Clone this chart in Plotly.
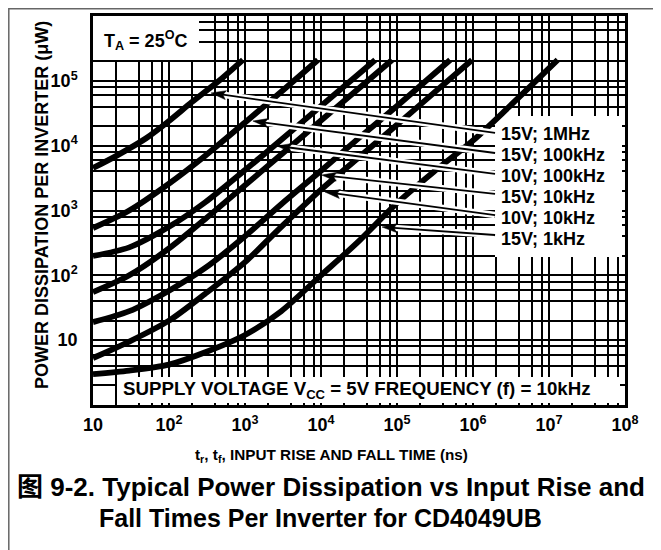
import math
import plotly.graph_objects as go

# ---------------- data (rise time ns, power uW) ----------------
rise_15v_1mhz = [10, 20, 50, 100, 200, 500, 940]
power_15v_1mhz = [4520, 6900, 13000, 24000, 47000, 110000, 210000]

rise_15v_100khz = [10, 30, 100, 300, 1000, 3000, 9100]
power_15v_100khz = [537, 1000, 2600, 7000, 22800, 68000, 210000]

rise_10v_100khz = [10, 30, 100, 300, 1000, 3000, 10000, 30000, 51600]
power_10v_100khz = [199, 270, 560, 1340, 4200, 12300, 41000, 122000, 210000]

rise_15v_10khz = [10, 30, 100, 300, 1000, 3000, 10000, 30000, 86000]
power_15v_10khz = [55, 100, 260, 740, 2450, 7300, 24500, 73000, 210000]

rise_10v_10khz = [10, 30, 100, 300, 1000, 3000, 10000, 30000, 100000, 300000, 500000]
power_10v_10khz = [19, 28, 58, 130, 400, 1250, 4100, 12500, 41000, 125000, 210000]

rise_15v_1khz = [10, 30, 100, 300, 1000, 3000, 10000, 30000, 100000, 300000, 970000]
power_15v_1khz = [5.3, 9.5, 20, 52, 160, 560, 2100, 6300, 21000, 64000, 210000]

rise_5v_10khz = [10, 30, 100, 300, 1000, 3000, 10000, 30000, 100000, 300000,
                 1000000, 3000000, 13000000]
power_5v_10khz = [3.0, 3.4, 4.2, 6.5, 12, 28, 100, 320, 1300, 3900, 12000, 40000, 210000]

# arrows from the label column to the curves
arrow_labels = ["15V; 1MHz", "15V; 100kHz", "10V; 100kHz", "15V; 10kHz", "10V; 10kHz", "15V; 1kHz"]
arrow_tail_rise = [1.95e6, 1.95e6, 1.95e6, 1.95e6, 1.95e6, 1.95e6]
arrow_tail_power = [15700, 7710, 3660, 1800, 851, 419]
arrow_tip_rise = [357, 1270, 2640, 10200, 11300, 63500]
arrow_tip_power = [64900, 24000, 9890, 3520, 1930, 556]

x_tick_vals = [10, 1e2, 1e3, 1e4, 1e5, 1e6, 1e7, 1e8]
x_tick_text = ["10", "10<sup>2</sup>", "10<sup>3</sup>", "10<sup>4</sup>", "10<sup>5</sup>",
               "10<sup>6</sup>", "10<sup>7</sup>", "10<sup>8</sup>"]
y_tick_vals = [10, 1e2, 1e3, 1e4, 1e5]
y_tick_text = ["10", "10<sup>2</sup>", "10<sup>3</sup>", "10<sup>4</sup>", "10<sup>5</sup>"]

# ---------------- layout geometry (page pixels; the page body adds an 8px offset) ----------------
OFF = 8
PAGE_W, PAGE_H = 661, 550
W, H = PAGE_W - OFF, PAGE_H - OFF
L, R, T, B = 93, 625, 16, 405          # plot area on the page
FONT = "Liberation Sans, Arial, Noto Sans CJK SC, sans-serif"
SX = (R - L) / 7.0   # px per decade (x)
SY = (B - T) / 6.0   # px per decade (y)


def xp(px):
    return (px - L) / (R - L)


def yp(py):
    return (B - py) / (B - T)


def px2x(px):
    return 10 ** (1 + (px - L) / SX)


def py2y(py):
    return 10 ** (6 - (py - T) / SY)


x_minor = [m * 10 ** k for k in range(1, 8) for m in (2, 4, 6, 8)]
y_minor = [m * 10 ** k for k in range(0, 6) for m in (2, 4, 6, 8)]

fig = go.Figure()

# white boxes that blank out the grid behind the texts
boxes = [(L, 199, T, 60), (495, 622, 116, 257), (117, 620, 377, 403)]
for x0, x1, y0, y1 in boxes:
    fig.add_trace(go.Scatter(
        x=[px2x(x0), px2x(x1), px2x(x1), px2x(x0), px2x(x0)],
        y=[py2y(y0), py2y(y0), py2y(y1), py2y(y1), py2y(y0)],
        mode="lines", fill="toself", fillcolor="white", line=dict(width=0, color="white"),
        hoverinfo="skip", showlegend=False))

curves = [
    (rise_15v_1mhz, power_15v_1mhz),
    (rise_15v_100khz, power_15v_100khz),
    (rise_10v_100khz, power_10v_100khz),
    (rise_15v_10khz, power_15v_10khz),
    (rise_10v_10khz, power_10v_10khz),
    (rise_15v_1khz, power_15v_1khz),
    (rise_5v_10khz, power_5v_10khz),
]
for xs, ys in curves:
    fig.add_trace(go.Scatter(x=xs, y=ys, mode="lines",
                             line=dict(color="black", width=5.8, shape="spline", smoothing=0.8),
                             hoverinfo="skip", showlegend=False))

# arrows: white halo, black shaft, black head
HEAD_LEN, HEAD_HW, NOTCH = 15.0, 4.5, 3.0
halo_x, halo_y, shaft_x, shaft_y, head_x, head_y = [], [], [], [], [], []
for tx, ty, kx, ky in zip(arrow_tail_rise, arrow_tail_power, arrow_tip_rise, arrow_tip_power):
    ax0, ay0 = math.log10(kx), math.log10(ky)
    bx0, by0 = math.log10(tx), math.log10(ty)
    dx, dy = (bx0 - ax0) * SX, (by0 - ay0) * SY
    n = math.hypot(dx, dy)
    ux, uy = dx / n, dy / n
    vx, vy = -uy, ux

    def pt(a, b):
        return (10 ** (ax0 + (a * ux + b * vx) / SX), 10 ** (ay0 + (a * uy + b * vy) / SY))

    base = pt(HEAD_LEN - NOTCH, 0)
    halo_x += [tx, base[0], None]
    halo_y += [ty, base[1], None]
    shaft_x += [tx, base[0], None]
    shaft_y += [ty, base[1], None]
    p0 = (kx, ky)
    p1 = pt(HEAD_LEN, HEAD_HW)
    p2 = pt(HEAD_LEN - NOTCH, 0)
    p3 = pt(HEAD_LEN, -HEAD_HW)
    for p in (p0, p1, p2, p3, p0):
        head_x.append(p[0])
        head_y.append(p[1])
    head_x.append(None)
    head_y.append(None)

fig.add_trace(go.Scatter(x=halo_x, y=halo_y, mode="lines", line=dict(color="white", width=6.5),
                         hoverinfo="skip", showlegend=False))
fig.add_trace(go.Scatter(x=shaft_x, y=shaft_y, mode="lines", line=dict(color="black", width=1.8),
                         hoverinfo="skip", showlegend=False))
fig.add_trace(go.Scatter(x=head_x, y=head_y, mode="lines", fill="toself", fillcolor="black",
                         line=dict(color="black", width=0.5), hoverinfo="skip", showlegend=False))

shapes = [
    # outer frame of the figure
    dict(type="rect", xref="paper", yref="paper", x0=xp(OFF + 0.8), x1=xp(PAGE_W + 20),
         y0=yp(PAGE_H + 20), y1=yp(OFF + 0.8),
         fillcolor="rgba(0,0,0,0)", line=dict(color="#666666", width=1.5), layer="above"),
]

ann = []
for i, lab in enumerate(arrow_labels):
    ann.append(dict(text=lab, xref="paper", yref="paper", x=xp(499), y=yp(134 + 21 * i),
                    xanchor="left", yanchor="middle", showarrow=False,
                    font=dict(family=FONT, size=18, color="black", weight="bold")))
ann.append(dict(text="T<sub>A</sub> = 25<sup>O</sup>C", xref="paper", yref="paper",
                x=xp(102), y=yp(40), xanchor="left", yanchor="middle", showarrow=False,
                font=dict(family=FONT, size=18, color="black", weight="bold")))
ann.append(dict(text="SUPPLY VOLTAGE V<sub>CC</sub> = 5V FREQUENCY (f) = 10kHz", xref="paper",
                yref="paper", x=xp(357), y=yp(390), xanchor="center", yanchor="middle",
                showarrow=False, font=dict(family=FONT, size=18.7, color="black", weight="bold")))
ann.append(dict(text="POWER DISSIPATION PER INVERTER (\u03bcW)", xref="paper", yref="paper",
                x=xp(42), y=yp(205), xanchor="center", yanchor="middle", textangle=-90,
                showarrow=False, font=dict(family=FONT, size=18, color="black", weight="bold")))
ann.append(dict(text="t<sub>r</sub>, t<sub>f</sub>, INPUT RISE AND FALL TIME (ns)", xref="paper",
                yref="paper", x=xp(331), y=yp(455), xanchor="center", yanchor="middle",
                showarrow=False, font=dict(family=FONT, size=15.3, color="black", weight="bold")))
ann.append(dict(text="\u56fe 9-2. Typical Power Dissipation vs Input Rise and", xref="paper",
                yref="paper", x=xp(331), y=yp(487), xanchor="center", yanchor="middle",
                showarrow=False, font=dict(family=FONT, size=26, color="black", weight="bold")))
ann.append(dict(text="Fall Times Per Inverter for CD4049UB", xref="paper",
                yref="paper", x=xp(320), y=yp(518), xanchor="center", yanchor="middle",
                showarrow=False, font=dict(family=FONT, size=25, color="black", weight="bold")))

axis_common = dict(type="log", showline=True, linecolor="black", linewidth=2.5, mirror=True,
                   showgrid=True, gridcolor="black", gridwidth=2, ticks="", zeroline=False,
                   tickangle=0,
                   tickfont=dict(family=FONT, size=18, color="black", weight="bold"))

fig.update_layout(
    width=W, height=H,
    margin=dict(l=L - OFF, r=PAGE_W - R, t=T - OFF, b=PAGE_H - B, autoexpand=False),
    paper_bgcolor="white", plot_bgcolor="white",
    xaxis=dict(axis_common, range=[1, 8], tickvals=x_tick_vals, ticktext=x_tick_text,
               ticklabelstandoff=2,
               minor=dict(tickvals=x_minor, showgrid=True, gridcolor="black", gridwidth=2, ticks="")),
    yaxis=dict(axis_common, range=[0, 6], tickvals=y_tick_vals, ticktext=y_tick_text,
               ticklabelstandoff=9,
               minor=dict(tickvals=y_minor, showgrid=True, gridcolor="black", gridwidth=2, ticks="")),
    shapes=shapes,
    annotations=ann,
    font=dict(family=FONT, color="black"),
)

fig.write_html("out.html")
